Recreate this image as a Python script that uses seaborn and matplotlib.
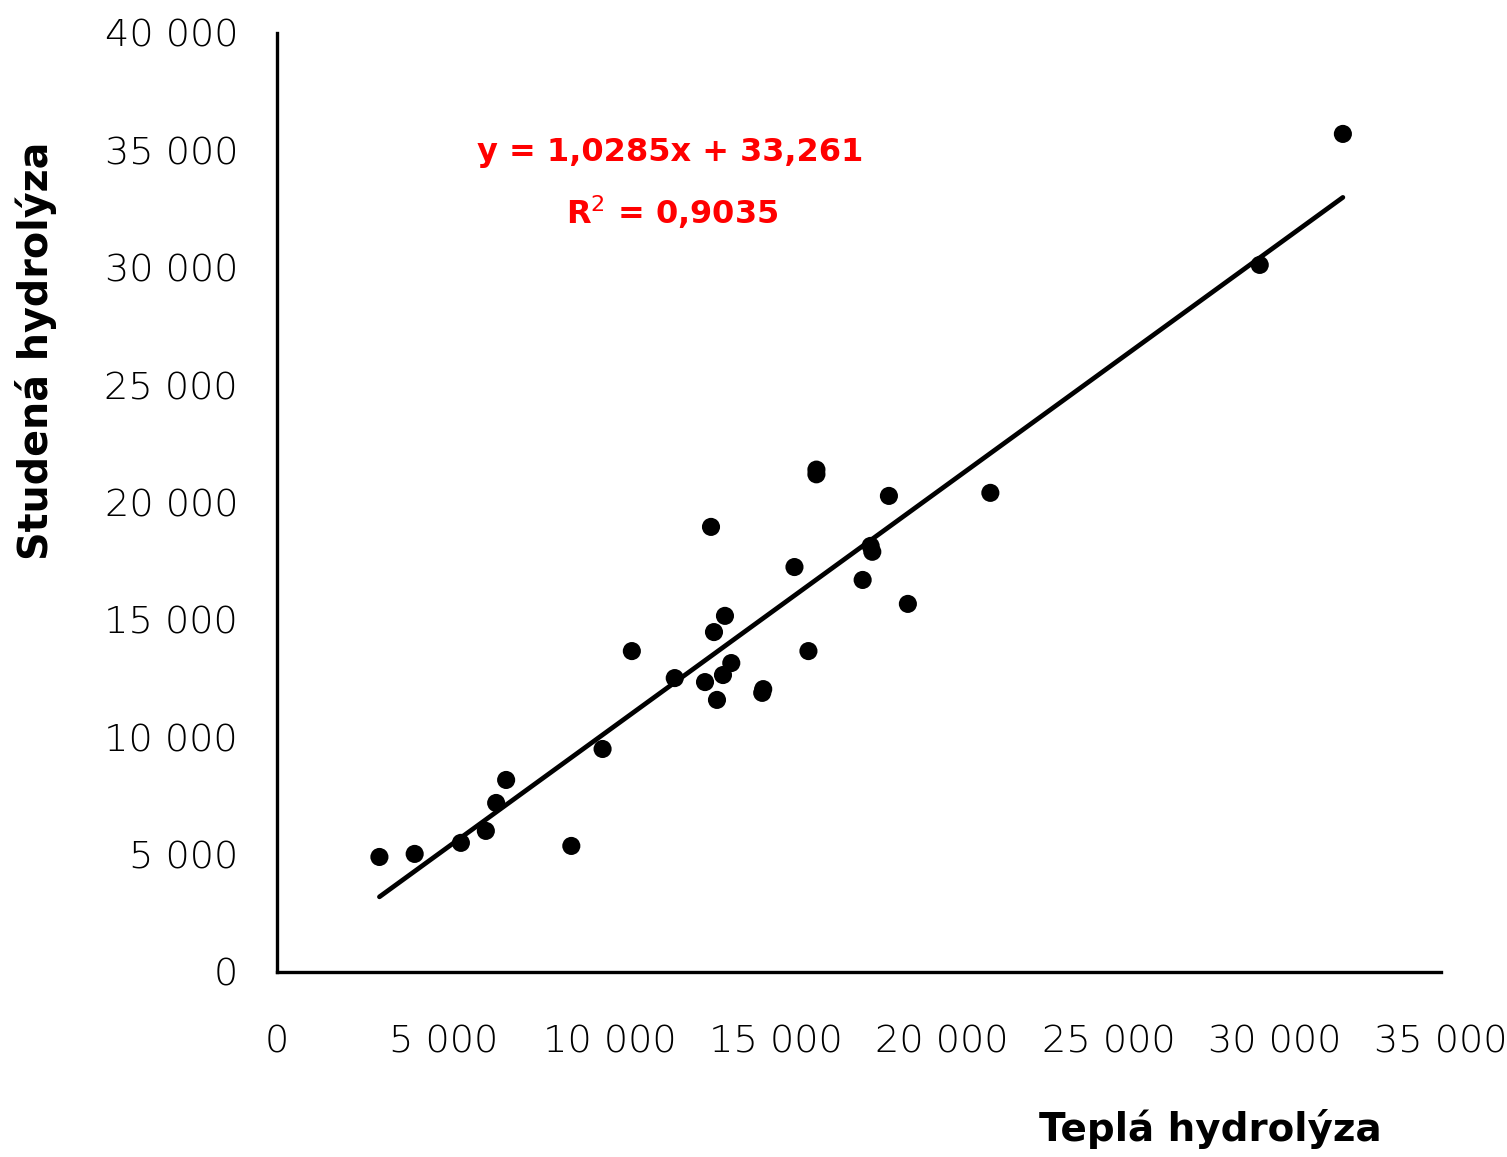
import numpy as np
import pandas as pd
import matplotlib
matplotlib.use("Agg")
import matplotlib.pyplot as plt
import seaborn as sns

# Warm vs. cold hydrolysis measurements
tepla = [3080, 4140, 5530, 6280, 6590, 6890, 8850, 9790, 10670, 11960,
         12870, 13050, 13140, 13230, 13410, 13470, 13660, 14590, 14620,
         15560, 15980, 16220, 16220, 17610, 17850, 17900, 18400, 18970,
         21450, 29550, 32050]
studena = [4900, 5030, 5500, 6010, 7200, 8180, 5370, 9500, 13670, 12520,
           12350, 18960, 14480, 11590, 12650, 15170, 13160, 11890, 12050,
           17250, 13670, 21200, 21400, 16700, 18150, 17900, 20280, 15680,
           20410, 30120, 35700]

# Linear trend reported on the chart
slope = 1.0285
intercept = 33.261
r2 = 0.9035

x_ticks = [0, 5000, 10000, 15000, 20000, 25000, 30000, 35000]
y_ticks = [0, 5000, 10000, 15000, 20000, 25000, 30000, 35000, 40000]


def fmt(v):
    return f"{v:,}".replace(",", " ")


def dec(v):
    return f"{v}".replace(".", ",")


df = pd.DataFrame({"Teplá hydrolýza": tepla, "Studená hydrolýza": studena})

sns.set_style("white")
plt.rcParams["font.family"] = ["DejaVu Sans"]
plt.rcParams["text.color"] = "black"

fig = plt.figure(figsize=(15.07, 11.57), dpi=100)
ax = fig.add_axes([0.1838, 0.1599, 0.7724, 0.8116])

sns.scatterplot(data=df, x="Teplá hydrolýza", y="Studená hydrolýza", ax=ax,
                color="black", s=170, edgecolor="none", zorder=3)

xs = np.array([min(tepla), max(tepla)])
trend = pd.DataFrame({"x": xs, "y": slope * xs + intercept})
sns.lineplot(data=trend, x="x", y="y", ax=ax, color="black", lw=3.4,
             zorder=2)

ax.set_xlim(0, 35000)
ax.set_ylim(0, 40000)
ax.set_xticks(x_ticks)
ax.set_yticks(y_ticks)
ax.set_xticklabels([fmt(v) for v in x_ticks])
ax.set_yticklabels([fmt(v) for v in y_ticks])
ax.tick_params(axis="both", direction="in", length=8, width=2.2,
               labelsize=27.5, colors="black")
ax.tick_params(axis="x", pad=38)
ax.tick_params(axis="y", pad=28)
for lab in ax.get_xticklabels() + ax.get_yticklabels():
    lab.set_fontweight("light")

sns.despine(ax=ax)
for side in ("left", "bottom"):
    ax.spines[side].set_linewidth(2.4)
    ax.spines[side].set_color("black")

ax.set_xlabel("")
ax.set_ylabel("")
fig.text(0.803, 0.007, "Teplá hydrolýza", fontsize=28, fontweight="bold",
         ha="center", va="bottom", color="black")
fig.text(0.024, 0.697, "Studená hydrolýza", fontsize=28.5, fontweight="bold",
         rotation=90, ha="center", va="center", color="black")

fig.text(0.4446, 0.8678, f"y = {dec(slope)}x + {dec(intercept)}",
         color="red", fontsize=23, fontweight="bold", ha="center",
         va="center")
fig.text(0.446, 0.8168, f"R$^2$ = {dec(r2)}", color="red", fontsize=23,
         fontweight="bold", ha="center", va="center")

fig.savefig("out.png", dpi=100, facecolor="white")
